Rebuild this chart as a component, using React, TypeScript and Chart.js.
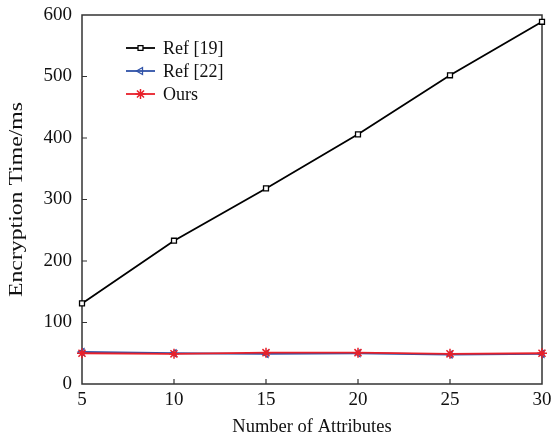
import React, { useEffect, useRef } from "react";
import { Chart, registerables } from "chart.js";
import * as helpers from "chart.js/helpers";

Chart.register(...registerables);

const categories = [5, 10, 15, 20, 25, 30];
const ref19 = [131, 233, 318, 406, 502, 589];
const ref22 = [52, 50, 49, 50, 48, 49];
const ours = [50, 49, 51, 51, 49, 50];
const seriesNames = ["Ref [19]", "Ref [22]", "Ours"];
const seriesColors = ["#000000", "#2f52a8", "#e8202a"];
const markerFills = ["#ffffff", "rgba(255,255,255,0)", "#e8202a"];
const yTickValues = [0, 100, 200, 300, 400, 500, 600];
const xTickValues = [5, 10, 15, 20, 25, 30];
const xTitle = "Number of Attributes";
const yTitle = "Encryption Time/ms";

const FONT = "'Liberation Serif', 'Times New Roman', serif";

const framePlugin = {
  id: "frame",
  beforeDatasetsDraw(chart: any) {
    const { ctx, chartArea: a, scales } = chart;
    ctx.save();
    ctx.strokeStyle = "#333";
    ctx.lineWidth = 1.5;
    ctx.strokeRect(a.left, a.top, a.right - a.left, a.bottom - a.top);
    ctx.lineWidth = 1.2;
    const tl = 5;
    ctx.beginPath();
    for (const v of yTickValues) {
      if (v === 0 || v === 600) continue;
      const y = scales.y.getPixelForValue(v);
      ctx.moveTo(a.left, y);
      ctx.lineTo(a.left + tl, y);
    }
    for (const v of xTickValues) {
      if (v === 5 || v === 30) continue;
      const x = scales.x.getPixelForValue(v);
      ctx.moveTo(x, a.bottom);
      ctx.lineTo(x, a.bottom - tl);
    }
    ctx.stroke();
    ctx.restore();

    // y-axis title (stretched along its length to match the reference)
    ctx.save();
    const cy = (a.top + a.bottom) / 2;
    ctx.translate(17, cy);
    ctx.rotate(-Math.PI / 2);
    ctx.scale(1.25, 1);
    ctx.fillStyle = "#111";
    ctx.font = `19px ${FONT}`;
    ctx.textAlign = "center";
    ctx.textBaseline = "middle";
    ctx.fillText(yTitle, 0, 0);
    ctx.restore();
  },
  afterDraw(chart: any) {
    const { ctx } = chart;
    const x0 = 126;
    const x1 = 155;
    const tx = 163;
    const rows = [48, 71, 94];
    ctx.save();
    chart.data.datasets.forEach((ds: any, i: number) => {
      const y = rows[i];
      ctx.strokeStyle = ds.borderColor;
      ctx.lineWidth = ds.borderWidth;
      ctx.beginPath();
      ctx.moveTo(x0, y);
      ctx.lineTo(x1, y);
      ctx.stroke();
      ctx.fillStyle = markerFills[i];
      ctx.strokeStyle = ds.pointBorderColor;
      ctx.lineWidth = ds.pointBorderWidth;
      (helpers as any).drawPoint(
        ctx,
        {
          pointStyle: ds.pointStyle,
          radius: ds.pointRadius,
          rotation: ds.rotation || 0,
          borderWidth: ds.pointBorderWidth,
        },
        (x0 + x1) / 2,
        y
      );
      ctx.fillStyle = "#111";
      ctx.font = `18px ${FONT}`;
      ctx.textBaseline = "middle";
      ctx.textAlign = "left";
      ctx.fillText(ds.label, tx, y + 1);
    });
    ctx.restore();
  },
};

export default function App() {
  const ref = useRef<HTMLCanvasElement>(null);
  useEffect(() => {
    const c = ref.current!;
    const mk = (vals: number[]) => categories.map((x, i) => ({ x, y: vals[i] }));
    const chart = new Chart(c, {
      type: "line",
      data: {
        datasets: [
          {
            label: seriesNames[0],
            data: mk(ref19),
            borderColor: seriesColors[0],
            backgroundColor: markerFills[0],
            borderWidth: 1.8,
            pointStyle: "rect",
            pointRadius: 3.5,
            pointBorderWidth: 1.3,
            pointBackgroundColor: markerFills[0],
            pointBorderColor: seriesColors[0],
            clip: false,
            order: 2,
          },
          {
            label: seriesNames[1],
            data: mk(ref22),
            borderColor: seriesColors[1],
            backgroundColor: markerFills[1],
            borderWidth: 1.8,
            pointStyle: "triangle",
            rotation: -90,
            pointRadius: 4,
            pointBorderWidth: 1.3,
            pointBackgroundColor: markerFills[1],
            pointBorderColor: seriesColors[1],
            clip: false,
            order: 1,
          },
          {
            label: seriesNames[2],
            data: mk(ours),
            borderColor: seriesColors[2],
            backgroundColor: markerFills[2],
            borderWidth: 1.8,
            pointStyle: "star",
            pointRadius: 5,
            pointBorderWidth: 1.5,
            pointBackgroundColor: markerFills[2],
            pointBorderColor: seriesColors[2],
            clip: false,
            order: 0,
          },
        ] as any,
      },
      options: {
        animation: false,
        responsive: false,
        layout: { padding: { left: 0, top: 15, right: 11, bottom: 0 } },
        plugins: { legend: { display: false }, tooltip: { enabled: false } },
        scales: {
          x: {
            type: "linear",
            min: 5,
            max: 30,
            grid: { display: false, drawTicks: false },
            border: { display: false },
            ticks: {
              stepSize: 5,
              padding: 5,
              color: "#111",
              font: { family: FONT, size: 19 },
              maxRotation: 0,
            },
            title: {
              display: true,
              text: xTitle,
              color: "#111",
              font: { family: FONT, size: 18.5 },
              padding: { top: 0, bottom: 2 },
            },
            afterFit: (s: any) => {
              s.height = 56;
              s.paddingLeft = 0;
              s.paddingRight = 0;
            },
          },
          y: {
            min: 0,
            max: 600,
            grid: { display: false, drawTicks: false },
            border: { display: false },
            ticks: {
              stepSize: 100,
              padding: 10,
              color: "#111",
              font: { family: FONT, size: 19 },
            },
            title: { display: false },
            afterFit: (s: any) => {
              s.width = 82;
              s.paddingTop = 0;
              s.paddingBottom = 0;
            },
          },
        },
      },
      plugins: [framePlugin],
    });
    return () => chart.destroy();
  }, []);
  return (
    <div style={{ position: "fixed", left: 0, top: 0, width: 553, height: 440, background: "#fff" }}>
      <canvas ref={ref} width={553} height={440} style={{ display: "block" }} />
    </div>
  );
}
